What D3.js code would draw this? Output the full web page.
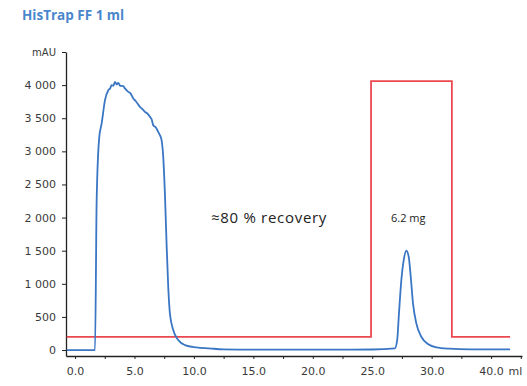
<!DOCTYPE html>
<html>
<head>
<meta charset="utf-8">
<script src="https://cdn.jsdelivr.net/npm/d3@7"></script>
<style>
  html, body { margin: 0; padding: 0; background: #fff; }
  svg { display: block; }
</style>
</head>
<body>
<svg id="chart" width="527" height="386"></svg>
<script>
// UV absorbance trace (ml, mAU)
const uvVolume = [-0.7, 1.68, 1.82, 2.04, 2.24, 2.52, 2.80, 2.95, 3.08, 3.22, 3.36, 3.50, 3.64, 3.80, 4.06, 4.20, 4.48, 4.65, 4.90, 5.10, 5.46, 5.65, 5.88, 6.10, 6.30, 6.45, 6.58, 6.80, 7.00, 7.15, 7.28, 7.42, 7.56, 7.70, 7.84, 7.98, 8.26, 8.68, 9.24, 10.2, 11.3, 12.5, 15.0, 20.0, 25.0, 26.9, 27.1, 27.25, 27.45, 27.65, 27.87, 28.07, 28.24, 28.43, 28.71, 29.13, 29.69, 30.39, 31.5, 33.2, 36.6];
const uvValue  = [0, 0, 2264, 3219, 3421, 3773, 3923, 3950, 4000, 3990, 4049, 4010, 4035, 3990, 3984, 3950, 3898, 3880, 3798, 3760, 3672, 3640, 3596, 3570, 3521, 3480, 3395, 3360, 3294, 3240, 3169, 2917, 2365, 1610, 955, 554, 302, 151, 75, 40, 25, 10, 5, 5, 8, 25, 151, 554, 1056, 1358, 1499, 1408, 1106, 705, 403, 201, 90, 40, 20, 10, 10];

// Elution step (drawn on the same mAU scale)
const stepVolume = [-0.7, 24.9, 24.9, 31.7, 31.7, 36.6];
const stepValue  = [200, 200, 4060, 4060, 200, 200];

// Axis ticks and labels
const xTickValues = [0, 2.5, 5, 7.5, 10, 12.5, 15, 17.5, 20, 22.5, 25, 27.5, 30, 32.5, 35, 37.5];
const xTickLabels = ["0.0", "", "5.0", "", "10.0", "", "15.0", "", "20.0", "", "25.0", "", "30.0", "", "40.0", "ml"];
const yTickValues = [0, 500, 1000, 1500, 2000, 2500, 3000, 3500, 4000, 4500];
const yTickLabels = ["0", "500", "1 000", "1 500", "2 000", "2 500", "3 000", "3 500", "4 000", "mAU"];

const svg = d3.select("#chart");

const x = d3.scaleLinear().domain([-0.76, 37.6]).range([66, 522]);
const y = d3.scaleLinear().domain([-90, 4500]).range([356, 52]);

// Title
svg.append("text")
  .attr("x", 22).attr("y", 20)
  .attr("font-family", "Open Sans, sans-serif")
  .attr("font-weight", "bold")
  .attr("font-size", 13.5)
  .attr("fill", "#4a86cc")
  .text("HisTrap FF 1 ml");

// Axes
const xAxis = d3.axisBottom(x)
  .tickValues(xTickValues)
  .tickSize(3)
  .tickSizeOuter(0)
  .tickFormat((d, i) => xTickLabels[i]);

const yAxis = d3.axisLeft(y)
  .tickValues(yTickValues)
  .tickSize(4)
  .tickSizeOuter(0)
  .tickFormat((d, i) => yTickLabels[i]);

const gx = svg.append("g").attr("transform", "translate(0,356)").call(xAxis);
const gy = svg.append("g").attr("transform", "translate(66,0)").call(yAxis);

[gx, gy].forEach(g => {
  g.select(".domain").attr("stroke", "#222").attr("stroke-width", 1.3);
  g.selectAll(".tick line").attr("stroke", "#222");
  g.selectAll(".tick text")
    .attr("font-family", "DejaVu Sans, sans-serif")
    .attr("font-size", 11)
    .attr("fill", "#3a3a3a");
});
gx.selectAll(".tick text").attr("dy", "1.2em");
gy.selectAll(".tick text").attr("x", -10);
gy.selectAll(".tick").filter(d => d === 4500).select("text").attr("font-size", 10);
gx.selectAll(".tick").filter(d => d === 37.5).select("text").attr("dx", -6);

const line = d3.line().x(d => x(d[0])).y(d => y(d[1]));

// Elution step
svg.append("path")
  .datum(d3.zip(stepVolume, stepValue))
  .attr("d", line)
  .attr("fill", "none")
  .attr("stroke", "#ec4850")
  .attr("stroke-width", 1.8);

// UV trace
svg.append("path")
  .datum(d3.zip(uvVolume, uvValue))
  .attr("d", line.curve(d3.curveMonotoneX))
  .attr("fill", "none")
  .attr("stroke", "#3a76c4")
  .attr("stroke-width", 1.8)
  .attr("stroke-linejoin", "round");

// Annotations
svg.append("text")
  .attr("x", 211).attr("y", 223)
  .attr("font-family", "Open Sans, sans-serif")
  .attr("font-size", 15)
  .attr("letter-spacing", 0.7)
  .attr("fill", "#222")
  .text("≈80 % recovery");

svg.append("text")
  .attr("x", 391).attr("y", 222)
  .attr("font-family", "Open Sans, sans-serif")
  .attr("font-size", 11)
  .attr("fill", "#222")
  .text("6.2 mg");
</script>
</body>
</html>
